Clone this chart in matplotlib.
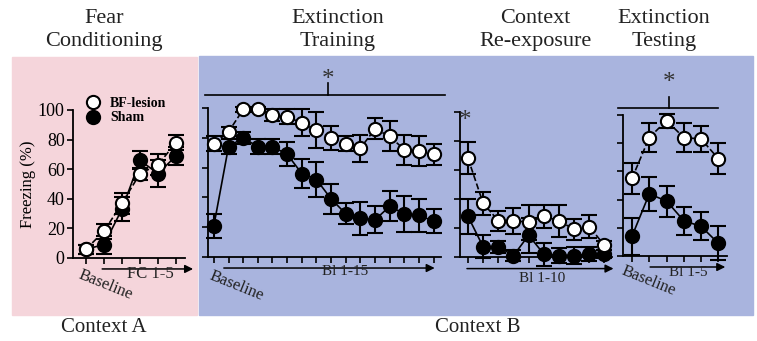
import matplotlib

matplotlib.use("Agg")
import matplotlib.pyplot as plt
from matplotlib.lines import Line2D
from matplotlib.patches import Rectangle

plt.rcParams["font.family"] = ["Liberation Serif", "DejaVu Serif"]

W, H = 757, 341  # canvas size in pixels (dpi 100)

# freezing (%) per block, mean and SEM
fc_bf = [6, 18, 37, 57, 63, 78]
fc_bf_err = [3, 5, 7, 4, 7, 5]
fc_sham = [6, 9, 33, 66, 57, 69]
fc_sham_err = [3, 6, 8, 6, 9, 6]

ext_bf = [76, 84, 99, 99, 95, 94, 90, 85, 80, 76, 73, 86, 81, 72, 71, 69]
ext_bf_err = [5, 3, 2, 2, 4, 5, 9, 12, 8, 5, 9, 7, 10, 10, 10, 7]
ext_sham = [21, 74, 80, 74, 74, 69, 56, 52, 39, 29, 26, 25, 34, 29, 28, 24]
ext_sham_err = [8, 5, 4, 5, 5, 8, 10, 12, 10, 7, 11, 9, 10, 12, 11, 8]

ctx_bf = [68, 37, 25, 25, 24, 28, 25, 19, 21, 8]
ctx_bf_err = [11, 8, 7, 9, 12, 8, 11, 7, 8, 3]
ctx_sham = [28, 7, 7, 1, 15, 2, 1, 1, 2, 2]
ctx_sham_err = [12, 8, 4, 4, 12, 8, 5, 6, 5, 3]

test_bf = [55, 84, 96, 84, 83, 69]
test_bf_err = [11, 10, 5, 10, 9, 11]
test_sham = [14, 44, 39, 25, 21, 9]
test_sham_err = [13, 12, 11, 10, 10, 12]

y_ticks = [0, 20, 40, 60, 80, 100]
headings = ["Fear\nConditioning", "Extinction\nTraining", "Context\nRe-exposure", "Extinction\nTesting"]
contexts = ["Context A", "Context B"]

PINK = "#F5D5DB"
BLUE = "#A9B4DE"
TXT = "#222222"


def px(x, y):
    """pixel position (origin top-left) -> figure fraction"""
    return x / W, 1 - y / H


def axes_box(x0, y_top, x1, y_bot):
    return [x0 / W, 1 - y_bot / H, (x1 - x0) / W, (y_bot - y_top) / H]


fig = plt.figure(figsize=(W / 100, H / 100), dpi=100)

# context backgrounds, kept under the axes
for (x0, y0, x1, y1), col in [((12, 57, 197, 315), PINK), ((199, 56, 753, 315), BLUE)]:
    fig.patches.append(Rectangle(px(x0, y1), (x1 - x0) / W, (y1 - y0) / H,
                                 transform=fig.transFigure, color=col, zorder=-10))

for x, txt in zip([104, 338, 535, 664], headings):
    fig.text(*px(x, 30), txt, ha="center", va="center", fontsize=16,
             color=TXT, linespacing=1.3)
for x, txt in zip([104, 478], contexts):
    fig.text(*px(x, 328), txt, ha="center", va="center", fontsize=15, color=TXT)


def panel(box, xlim, bf, bf_err, sham, sham_err, ylabels=False):
    ax = fig.add_axes(axes_box(*box))
    ax.patch.set_alpha(0)
    x = list(range(len(bf)))
    ax.errorbar(x, sham, yerr=sham_err, fmt="-o", color="k", lw=1.2, ms=9.5,
                mfc="k", mec="k", mew=1.5, ecolor="k", elinewidth=1.5,
                capsize=6, capthick=1.5, clip_on=False, zorder=3)
    ax.errorbar(x, bf, yerr=bf_err, fmt="--o", color="k", lw=1.2, ms=9.5,
                mfc="white", mec="k", mew=1.5, ecolor="k", elinewidth=1.5,
                capsize=6, capthick=1.5, clip_on=False, zorder=4)
    ax.set_xlim(*xlim)
    ax.set_ylim(0, 100)
    ax.set_xticks(x)
    ax.set_xticklabels([])
    ax.set_yticks(y_ticks)
    if ylabels:
        ax.set_yticklabels([str(v) for v in y_ticks], fontsize=13)
    else:
        ax.set_yticklabels([])
    for s in ("top", "right"):
        ax.spines[s].set_visible(False)
    for s in ("left", "bottom"):
        ax.spines[s].set_linewidth(1.3)
    ax.tick_params(direction="out", length=4, width=1.2, pad=2, colors="k")
    return ax


def arrow(ax, x0, x1, y):
    ax.annotate("", xy=(x1, y), xytext=(x0, y), annotation_clip=False,
                arrowprops=dict(arrowstyle="-|>", color="k", lw=1.1,
                                mutation_scale=12, shrinkA=0, shrinkB=0))


def sig_bar(ax, x0, x1, xm, y, ytop, ystar):
    ax.plot([x0, x1], [y, y], color="k", lw=1.2, clip_on=False)
    ax.plot([xm, xm], [y, ytop], color="k", lw=1.2, clip_on=False)
    ax.text(xm, ystar, "*", ha="center", va="center", fontsize=18, color="#333333")


ax1 = panel((73, 110, 185, 258), (-0.72, 5.5), fc_bf, fc_bf_err, fc_sham, fc_sham_err, ylabels=True)
ax1.set_ylabel("Freezing (%)", fontsize=12, labelpad=1)
arrow(ax1, 0.9, 5.95, -7.4)
ax1.text(3.6, -10.5, "FC 1-5", ha="center", va="center", fontsize=12, color=TXT)
ax1.text(1.1, -18.5, "Baseline", ha="center", va="center", fontsize=12, rotation=-22, color=TXT)
handles = [Line2D([], [], ls="none", marker="o", ms=9.5, mfc="white", mec="k", mew=1.5),
           Line2D([], [], ls="none", marker="o", ms=9.5, mfc="k", mec="k", mew=1.5)]
ax1.legend(handles, ["BF-lesion", "Sham"], loc="upper left", bbox_to_anchor=px(87, 97),
           bbox_transform=fig.transFigure, frameon=False, borderpad=0, borderaxespad=0,
           handlelength=0.9, handletextpad=0.75, labelspacing=0.1,
           prop=dict(family="Liberation Serif", weight="bold", size=10))

ax2 = panel((208, 108, 441, 257), (-0.4, 15.5), ext_bf, ext_bf_err, ext_sham, ext_sham_err)
arrow(ax2, 0.68, 15.07, -7.4)
ax2.text(8.93, -10, "Bl 1-15", ha="center", va="center", fontsize=11, color=TXT)
ax2.text(1.57, -19.5, "Baseline", ha="center", va="center", fontsize=12, rotation=-22, color=TXT)
sig_bar(ax2, -0.6, 15.75, 7.77, 109, 117, 118.5)

ax3 = panel((460, 112, 612, 257), (-0.53, 9.5), ctx_bf, ctx_bf_err, ctx_sham, ctx_sham_err)
arrow(ax3, -0.07, 9.6, -8)
ax3.text(4.9, -14.5, "Bl 1-10", ha="center", va="center", fontsize=11, color=TXT)
ax3.text(-0.2, 94, "*", ha="center", va="center", fontsize=18, color="#333333")

ax4 = panel((623, 115, 727, 256), (-0.52, 5.5), test_bf, test_bf_err, test_sham, test_sham_err)
arrow(ax4, 1.05, 5.4, -7.8)
ax4.text(3.26, -12, "Bl 1-5", ha="center", va="center", fontsize=11, color=TXT)
ax4.text(0.93, -17.7, "Baseline", ha="center", va="center", fontsize=12, rotation=-22, color=TXT)
sig_bar(ax4, -0.81, 5.0, 2.15, 105, 113, 122.7)

fig.savefig("out.png", dpi=100)
